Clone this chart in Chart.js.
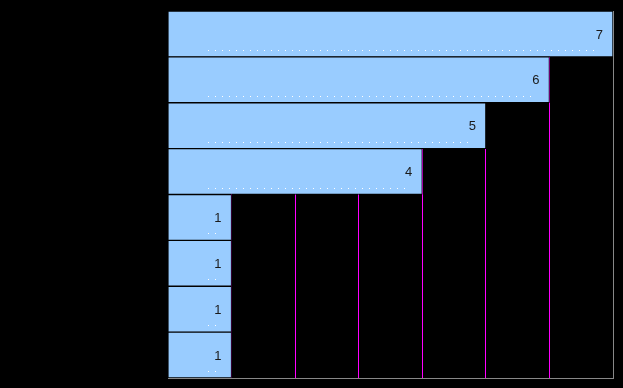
<!DOCTYPE html>
<html>
<head>
<meta charset="utf-8">
<script src="https://cdn.jsdelivr.net/npm/chart.js@4"></script>
<style>
  body { margin: 0; background: #000; }
  #wrap { width: 623px; height: 388px; }
</style>
</head>
<body>
<div id="wrap"><canvas id="myChart" width="623" height="388"></canvas></div>
<script>
// data
var categories = ['A', 'B', 'C', 'D', 'E', 'F', 'G', 'H'];
var values = [7, 6, 5, 4, 1, 1, 1, 1];
var axisMax = 7;

// grid colours per tick 0..7: none at 0, magenta inside, grey at the right edge
var gridColors = [];
for (var t = 0; t <= axisMax; t++) {
  gridColors.push(t === 0 ? 'rgba(0,0,0,0)' : (t === axisMax ? '#888888' : '#ff00ff'));
}

// value labels at the end of each bar + little white dot rows
var barDecor = {
  id: 'barDecor',
  afterDatasetsDraw: function (chart) {
    var ctx = chart.ctx;
    var meta = chart.getDatasetMeta(0);
    ctx.save();
    meta.data.forEach(function (bar, i) {
      var bottom = bar.y + bar.height / 2;
      // dotted row
      ctx.fillStyle = '#ffffff';
      for (var x = bar.base + 39; x <= bar.x - 17; x += 7) {
        ctx.fillRect(Math.round(x), Math.round(bottom - 7), 1, 1);
      }
      // value
      ctx.fillStyle = '#1a1a1a';
      ctx.font = '13px "Liberation Sans", Arial, sans-serif';
      ctx.textAlign = 'right';
      ctx.textBaseline = 'middle';
      ctx.fillText(String(values[i]), bar.x - 10, bar.y + 1);
    });
    ctx.restore();
  }
};

var ctx = document.getElementById('myChart');
var chart = new Chart(ctx, {
  type: 'bar',
  data: {
    labels: categories,
    datasets: [{
      data: values,
      backgroundColor: '#99ccff',
      borderColor: '#000000',
      borderWidth: 1,
      barPercentage: 1,
      categoryPercentage: 1
    }]
  },
  options: {
    indexAxis: 'y',
    responsive: false,
    animation: false,
    layout: { padding: { left: 168, right: 10, top: 11, bottom: 10 } },
    plugins: { legend: { display: false }, tooltip: { enabled: false } },
    scales: {
      x: {
        min: 0,
        max: axisMax,
        ticks: { display: false, stepSize: 1 },
        grid: {
          drawTicks: false,
          color: gridColors,
          lineWidth: 1
        },
        border: { display: true, color: '#888888' },
        afterFit: function (s) { s.height = 0; }
      },
      y: {
        display: false
      }
    }
  },
  plugins: [barDecor]
});
</script>
</body>
</html>
